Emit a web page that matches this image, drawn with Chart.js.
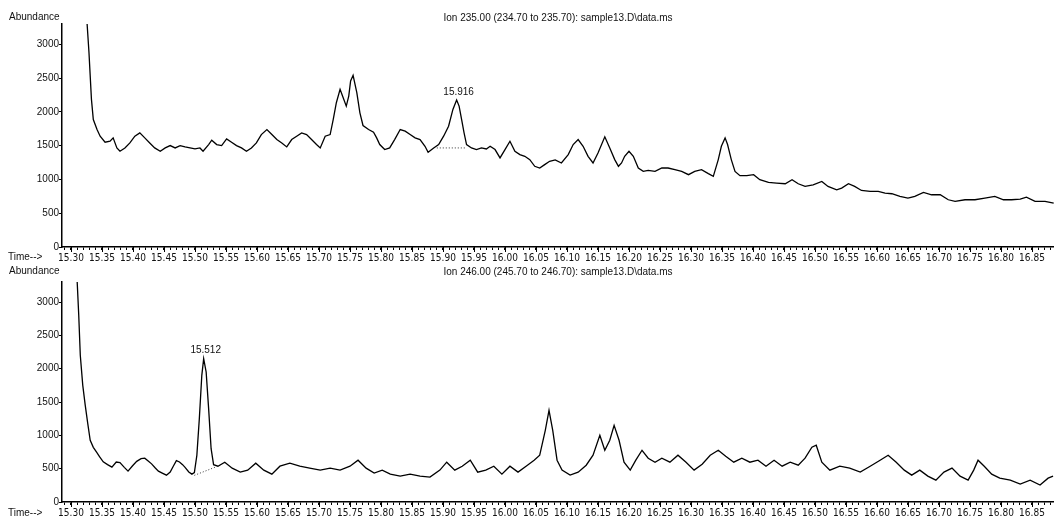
<!DOCTYPE html>
<html>
<head>
<meta charset="utf-8">
<script src="https://cdn.jsdelivr.net/npm/chart.js@4.4.1/dist/chart.umd.min.js"></script>
<style>
body{margin:0;background:#fff;width:1054px;height:520px;overflow:hidden;position:relative}
.panel{position:absolute;left:0;width:1054px}
</style>
</head>
<body>
<div class="panel" style="top:0;height:264px"><canvas id="ion235"></canvas></div>
<div class="panel" style="top:262px;height:258px"><canvas id="ion246"></canvas></div>
<script>
// tick labels
const xTickLabels = ['15.30','15.35','15.40','15.45','15.50','15.55','15.60','15.65','15.70','15.75','15.80','15.85',
  '15.90','15.95','16.00','16.05','16.10','16.15','16.20','16.25','16.30','16.35','16.40','16.45','16.50','16.55',
  '16.60','16.65','16.70','16.75','16.80','16.85'];
const yTickValues = [0, 500, 1000, 1500, 2000, 2500, 3000];

// ion 235 trace (time in min, abundance)
const topTime = [15.326,15.329,15.333,15.336,15.342,15.347,15.355,15.363,15.368,15.374,15.379,15.387,15.395,15.403,15.411,
  15.419,15.427,15.435,15.444,15.452,15.460,15.468,15.476,15.484,15.492,15.500,15.508,15.513,15.522,15.527,15.535,15.543,
  15.551,15.559,15.567,15.575,15.583,15.591,15.599,15.607,15.616,15.624,15.632,15.640,15.648,15.656,15.664,15.672,15.680,
  15.688,15.696,15.702,15.710,15.718,15.723,15.728,15.734,15.738,15.744,15.748,15.751,15.755,15.761,15.766,15.771,15.780,
  15.788,15.793,15.798,15.806,15.814,15.822,15.831,15.839,15.847,15.855,15.863,15.871,15.876,15.885,15.893,15.901,15.909,
  15.916,15.922,15.926,15.930,15.934,15.938,15.946,15.954,15.962,15.970,15.976,15.984,15.992,16.000,16.008,16.016,16.024,
  16.032,16.040,16.048,16.056,16.064,16.072,16.081,
  16.091,16.102,16.110,16.118,16.126,16.134,16.142,16.150,16.161,16.169,16.177,16.183,16.188,16.193,16.200,16.207,16.215,
  16.223,16.231,16.242,16.253,16.263,16.274,16.285,16.296,16.306,16.317,16.328,16.336,16.344,16.349,16.355,16.359,16.365,
  16.371,16.379,16.390,16.401,16.411,16.425,16.438,16.452,16.463,16.473,16.484,16.497,16.511,16.521,16.535,16.543,16.554,
  16.564,16.575,16.589,16.602,16.613,16.624,16.637,16.650,16.661,16.675,16.688,16.702,16.715,16.726,16.742,16.758,16.774,
  16.790,16.804,16.817,16.831,16.841,16.855,16.871,16.885];
const topAbund = [3300,2878,2185,1887,1738,1640,1550,1565,1615,1466,1417,1466,1540,1640,1689,
  1615,1540,1466,1417,1466,1501,1466,1501,1481,1466,1451,1466,1417,1516,1580,1516,1501,
  1600,1550,1501,1466,1417,1466,1540,1664,1738,1664,1590,1540,1481,1590,1640,1689,1664,
  1590,1516,1466,1640,1664,1887,2135,2333,2234,2085,2234,2457,2541,2283,1986,1798,1738,
  1699,1615,1516,1442,1466,1590,1738,1714,1664,1615,1590,1491,1402,1466,1516,1640,1788,
  2036,2175,2085,1887,1689,1516,1466,1442,1466,1451,1491,1442,1318,1442,1565,1417,1367,
  1342,1293,1194,1169,1219,1268,1290,
  1243,1367,1516,1590,1491,1342,1243,1392,1630,1466,1293,1194,1243,1342,1417,1342,1169,
  1119,1134,1119,1169,1169,1144,1119,1070,1119,1144,1085,1045,1293,1491,1615,1516,1293,
  1119,1055,1055,1070,996,956,946,936,996,936,897,921,971,897,847,872,936,
  897,837,822,822,798,788,748,723,748,807,773,773,699,674,699,699,723,
  748,699,699,708,738,674,674,649];
const topBaseTime = [15.890, 15.938];
const topBaseAbund = [1466, 1466];

// ion 246 trace
const botTime = [15.310,15.3125,15.315,15.319,15.323,15.327,15.331,15.336,15.341,15.346,15.352,15.359,15.366,15.373,
  15.379,15.386,15.392,15.399,15.406,15.413,15.419,15.425,15.430,15.436,15.441,15.448,15.454,15.460,15.465,15.470,
  15.475,15.480,15.484,15.490,15.495,15.499,15.503,15.507,15.511,15.514,15.518,15.522,15.526,15.530,
  15.537,15.548,15.560,15.573,15.585,15.598,15.611,
  15.624,15.637,15.653,15.669,15.685,15.702,15.718,15.734,15.750,15.763,15.776,15.789,15.802,15.815,15.831,15.847,15.863,
  15.879,15.895,15.906,15.919,15.931,15.944,15.956,15.969,15.982,15.995,16.008,16.021,16.034,16.047,16.056,16.065,16.071,
  16.077,16.084,16.092,16.105,16.118,16.131,16.142,16.153,16.161,16.169,16.176,16.184,16.192,16.202,16.211,16.221,16.231,
  16.242,16.253,16.266,16.279,16.292,16.305,16.318,16.331,16.344,16.356,16.369,16.382,16.395,16.408,16.421,16.434,16.447,
  16.460,16.473,16.484,16.495,16.502,16.511,16.524,16.540,16.556,16.573,16.589,16.605,16.618,16.631,16.644,16.656,16.669,
  16.682,16.695,16.708,16.721,16.734,16.747,16.756,16.763,16.773,16.785,16.798,16.815,16.831,16.847,16.863,16.876,16.884];
const botAbund = [3300,2800,2200,1750,1450,1180,926,820,751,680,602,560,523,600,
  590,520,463,540,610,650,657,610,572,510,463,430,403,450,537,620,
  600,560,520,450,418,440,700,1250,1900,2150,1950,1400,800,560,
  537,597,508,448,478,582,478,
  418,537,582,537,508,478,508,478,537,627,508,433,478,418,388,418,388,
  373,478,597,478,537,627,448,478,537,418,537,448,537,627,702,1075,1374,
  1075,627,478,403,448,552,702,1000,776,926,1150,926,597,478,627,776,657,
  597,657,597,702,597,478,567,702,776,687,597,657,597,627,537,627,537,
  597,552,657,821,851,597,478,537,508,448,537,627,702,597,478,403,478,
  388,328,448,508,388,328,478,627,537,418,358,328,269,328,254,358,388];
const botBaseTime = [15.499, 15.532];
const botBaseAbund = [400, 520];

// minor ticks every 0.01, labels every 0.05
const xTickValues = [];
for (let k = 1529; k <= 1688; k++) xTickValues.push(k / 100);

const xFont = {family: '"Liberation Sans Narrow", "DejaVu Sans Condensed", sans-serif', size: 10};
const yFont = {family: '"Liberation Sans", Arial, sans-serif', size: 10};

function pts(xs, ys) {
  const n = Math.min(xs.length, ys.length);
  const out = [];
  for (let i = 0; i < n; i++) out.push({x: xs[i], y: ys[i]});
  return out;
}

// titles, axis words, longer major ticks and peak label
const panelText = {
  id: 'panelText',
  afterDraw(chart, args, o) {
    const {ctx, chartArea, scales} = chart;
    ctx.save();
    ctx.strokeStyle = '#000';
    ctx.lineWidth = 1;
    ctx.beginPath();
    xTickLabels.forEach(l => {
      const px = Math.round(scales.x.getPixelForValue(parseFloat(l))) + 0.5;
      ctx.moveTo(px, chartArea.bottom);
      ctx.lineTo(px, chartArea.bottom + 5);
    });
    ctx.stroke();
    ctx.fillStyle = '#111';
    ctx.font = '10px "Liberation Sans", Arial, sans-serif';
    ctx.textBaseline = 'middle';
    ctx.textAlign = 'center';
    ctx.fillText(o.title, (chartArea.left + chartArea.right) / 2, o.titleY);
    ctx.textAlign = 'left';
    ctx.fillText('Abundance', 9, o.titleY - 1);
    ctx.fillText('Time-->', 8, chartArea.bottom + o.timeDy);
    const px = scales.x.getPixelForValue(o.peakTime);
    const py = scales.y.getPixelForValue(o.peakAbund);
    ctx.textAlign = 'center';
    ctx.textBaseline = 'bottom';
    ctx.fillText(o.peakText, px + 2, py - 3);
    ctx.restore();
  }
};

function makeChart(id, times, abund, baseT, baseA, padTop, axisH, text) {
  new Chart(document.getElementById(id), {
    type: 'line',
    data: {
      datasets: [{
        data: pts(times, abund),
        borderColor: '#000',
        borderWidth: 1.3,
        pointRadius: 0,
        tension: 0
      }, {
        data: pts(baseT, baseA),
        borderColor: '#333',
        borderWidth: 1,
        borderDash: [1, 2],
        pointRadius: 0
      }]
    },
    options: {
      responsive: true,
      maintainAspectRatio: false,
      animation: false,
      layout: {padding: {top: padTop, left: 0, right: 0, bottom: 0}},
      plugins: {legend: {display: false}, tooltip: {enabled: false}, panelText: text},
      scales: {
        x: {
          type: 'linear',
          min: 15.2855,
          max: 16.8855,
          afterBuildTicks: s => { s.ticks = xTickValues.map(v => ({value: v})); },
          afterFit: s => { s.height = axisH; },
          grid: {drawOnChartArea: false, drawTicks: true, tickLength: 3, color: '#000'},
          border: {display: true, color: '#000', width: 1.5},
          ticks: {
            autoSkip: false,
            maxRotation: 0,
            padding: 2,
            color: '#111',
            font: xFont,
            callback: v => {
              const lab = v.toFixed(2);
              return xTickLabels.includes(lab) ? lab : '';
            }
          }
        },
        y: {
          min: 0,
          max: 3300,
          afterBuildTicks: s => { s.ticks = yTickValues.map(v => ({value: v})); },
          afterFit: s => { s.width = 62; },
          grid: {drawOnChartArea: false, drawTicks: true, tickLength: 3, color: '#000'},
          border: {display: true, color: '#000', width: 1.5},
          ticks: {padding: 0, color: '#111', font: yFont, callback: v => String(v)}
        }
      }
    },
    plugins: [panelText]
  });
}

makeChart('ion235', topTime, topAbund, topBaseTime, topBaseAbund, 24, 17, {
  title: 'Ion 235.00 (234.70 to 235.70): sample13.D\\data.ms', titleY: 18, timeDy: 10,
  peakText: '15.916', peakTime: 15.922, peakAbund: 2175
});
makeChart('ion246', botTime, botAbund, botBaseTime, botBaseAbund, 20, 18, {
  title: 'Ion 246.00 (245.70 to 246.70): sample13.D\\data.ms', titleY: 10, timeDy: 11,
  peakText: '15.512', peakTime: 15.514, peakAbund: 2150
});
</script>
</body>
</html>
